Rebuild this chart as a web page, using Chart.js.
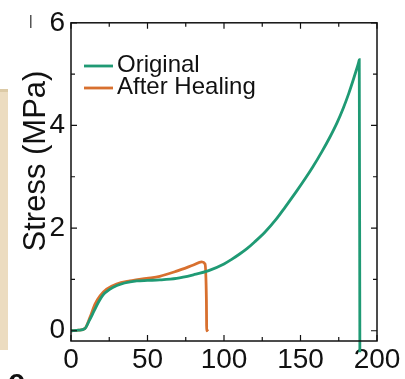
<!DOCTYPE html>
<html>
<head>
<meta charset="utf-8">
<script src="https://cdn.jsdelivr.net/npm/chart.js@4"></script>
<style>
  html, body { margin: 0; padding: 0; background: #fff; }
  #wrap { width: 405px; height: 379px; position: relative; }
</style>
</head>
<body>
<div id="wrap"><canvas id="chart"></canvas></div>
<script>
// ── Data ──────────────────────────────────────────
const origStrain = [0, 5, 9, 12, 15, 18, 21, 25, 30, 35, 43, 50, 58, 69, 80, 90, 100, 105, 110, 115, 120, 127, 134, 140, 147, 153, 158, 164, 169, 174, 178, 181.5, 184.5, 186.5, 188.0, 188.4, 188.8];
const origStress = [0, 0.01, 0.04, 0.2, 0.38, 0.56, 0.7, 0.8, 0.88, 0.93, 0.97, 0.98, 0.99, 1.02, 1.09, 1.17, 1.3, 1.39, 1.49, 1.6, 1.73, 1.93, 2.17, 2.41, 2.7, 2.96, 3.19, 3.49, 3.76, 4.06, 4.34, 4.62, 4.89, 5.08, 5.23, 5.28, -0.42];

const healStrain = [0, 5, 9, 12.4, 15.7, 19, 23.3, 29.8, 38.6, 49.4, 58, 69, 80, 85.4, 87.6, 88.5, 88.7, 89.6];
const healStress = [0, 0.01, 0.04, 0.26, 0.52, 0.68, 0.81, 0.91, 0.97, 1.02, 1.06, 1.16, 1.28, 1.34, 1.3, 0.6, 0.0, 0.03];

const xTicks = [0, 50, 100, 150, 200];
const xMinor = [25, 75, 125, 175];
const yTicks = [0, 2, 4, 6];
const yMinor = [1, 3, 5];

const GREEN  = '#1f9a74';
const ORANGE = '#d8702f';
const FONT   = '"Liberation Sans", Arial, sans-serif';

const pts = (xs, ys) => xs.map((x, i) => ({ x, y: ys[i] }));

// ── Frame, inward ticks, titles, legend, panel bits ──
const decor = {
  id: 'decor',
  beforeDraw(chart) {
    const c = chart.ctx;
    c.save();
    // beige edge of the neighbouring panel
    c.fillStyle = '#ecdcc0';
    c.fillRect(0, 89, 8, 261);
    c.fillStyle = '#dccaa6';
    c.fillRect(0, 89, 8, 3);
    // stray mark
    c.fillStyle = '#555';
    c.fillRect(30, 15, 1.5, 13);
    c.restore();
  },
  afterDatasetsDraw(chart) {
    const c = chart.ctx;
    const a = chart.chartArea;
    const xs = chart.scales.x, ys = chart.scales.y;
    c.save();
    c.strokeStyle = '#111';
    c.lineWidth = 1.5;
    c.strokeRect(a.left, a.top, a.right - a.left, a.bottom - a.top);

    c.lineWidth = 1.2;
    c.beginPath();
    const xt = (v, len) => {
      const px = xs.getPixelForValue(v);
      c.moveTo(px, a.bottom); c.lineTo(px, a.bottom - len);
      c.moveTo(px, a.top);    c.lineTo(px, a.top + len);
    };
    const yt = (v, len) => {
      const py = ys.getPixelForValue(v);
      c.moveTo(a.left, py);  c.lineTo(a.left + len, py);
      c.moveTo(a.right, py); c.lineTo(a.right - len, py);
    };
    xTicks.forEach(v => xt(v, 6));
    xMinor.forEach(v => xt(v, 4));
    yTicks.forEach(v => yt(v, 6));
    yMinor.forEach(v => yt(v, 4));
    c.stroke();

    // axis titles
    c.fillStyle = '#111';
    c.font = '31px ' + FONT;
    c.textAlign = 'center';
    c.textBaseline = 'middle';
    c.save();
    c.translate(36, 161);
    c.rotate(-Math.PI / 2);
    c.fillText('Stress (MPa)', 0, 0);
    c.restore();
    c.font = '27px ' + FONT;
    c.textBaseline = 'alphabetic';
    c.fillText('Strain (%)', 245, 399);

    // panel letter, cut by the edge
    c.font = 'bold 30px ' + FONT;
    c.textAlign = 'left';
    c.fillText('c', 8, 390);

    // legend
    const rows = [{ y: 66 }, { y: 88 }];
    c.font = '24px ' + FONT;
    c.textBaseline = 'middle';
    chart.data.datasets.forEach((ds, i) => {
      const y = rows[i].y;
      c.strokeStyle = ds.borderColor;
      c.lineWidth = 2.8;
      c.beginPath();
      c.moveTo(84, y); c.lineTo(113, y);
      c.stroke();
      c.fillStyle = '#111';
      c.fillText(ds.label, 117, y - 1);
    });
    c.restore();
  }
};

new Chart(document.getElementById('chart'), {
  type: 'scatter',
  data: {
    datasets: [
      { label: 'Original', data: pts(origStrain, origStress), borderColor: GREEN, backgroundColor: GREEN,
        showLine: true, borderWidth: 2.8, pointRadius: 0, cubicInterpolationMode: 'monotone', clip: false },
      { label: 'After Healing', data: pts(healStrain, healStress), borderColor: ORANGE, backgroundColor: ORANGE,
        showLine: true, borderWidth: 2.8, pointRadius: 0, cubicInterpolationMode: 'monotone', clip: false }
    ]
  },
  options: {
    responsive: true,
    maintainAspectRatio: false,
    animation: false,
    layout: { padding: { left: 0, top: 18, right: 28, bottom: 0 } },
    plugins: { legend: { display: false }, tooltip: { enabled: false } },
    scales: {
      x: {
        type: 'linear', min: 0, max: 200,
        afterFit: s => { s.height = 38; },
        afterBuildTicks: s => { s.ticks = xTicks.map(v => ({ value: v })); },
        grid: { display: false, drawTicks: false },
        border: { display: false },
        ticks: { color: '#111', padding: 2, maxRotation: 0, font: { family: FONT, size: 28 } }
      },
      y: {
        type: 'linear', min: -0.2, max: 6,
        afterFit: s => { s.width = 71; },
        afterBuildTicks: s => { s.ticks = yTicks.map(v => ({ value: v })); },
        grid: { display: false, drawTicks: false },
        border: { display: false },
        ticks: { color: '#111', padding: 6, font: { family: FONT, size: 28 } }
      }
    }
  },
  plugins: [decor]
});
</script>
</body>
</html>
